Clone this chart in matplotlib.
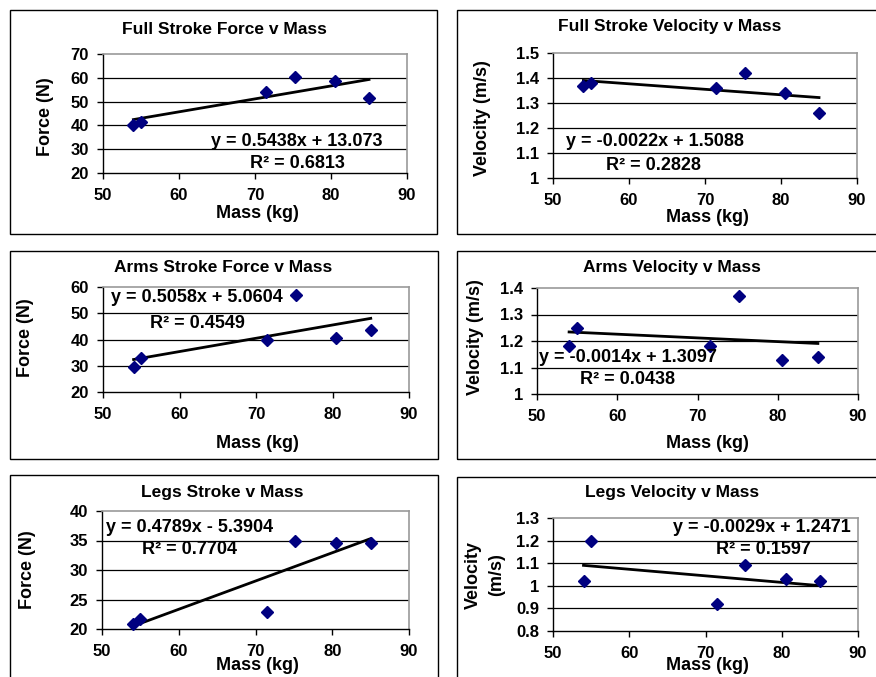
import numpy as np
import matplotlib
matplotlib.use('Agg')
import matplotlib.pyplot as plt
from matplotlib.patches import Rectangle

plt.rcParams['font.family'] = ['Liberation Sans', 'DejaVu Sans']
plt.rcParams['font.weight'] = 'bold'

W, H = 876, 677

# athlete mass (kg)
mass = [54.0, 55.0, 71.5, 75.2, 80.5, 85.0]

full_force = [40.0, 41.5, 54.0, 60.5, 58.5, 51.5]
full_vel = [1.37, 1.38, 1.36, 1.42, 1.34, 1.26]
arms_force = [29.5, 33.0, 40.0, 57.0, 40.5, 43.5]
arms_vel = [1.18, 1.25, 1.18, 1.37, 1.13, 1.14]
legs_force = [20.8, 21.7, 22.9, 35.0, 34.5, 34.5]
legs_vel = [1.02, 1.20, 0.92, 1.09, 1.03, 1.02]

titles = ['Full Stroke Force v Mass', 'Full Stroke Velocity v Mass',
          'Arms Stroke Force v Mass', 'Arms Velocity v Mass',
          'Legs Stroke v Mass', 'Legs Velocity v Mass']
ylabels = ['Force (N)', 'Velocity (m/s)', 'Force (N)', 'Velocity (m/s)',
           'Force (N)', 'Velocity\n(m/s)']
slopes = [0.5438, -0.0022, 0.5058, -0.0014, 0.4789, -0.0029]
intercepts = [13.073, 1.5088, 5.0604, 1.3097, -5.3904, 1.2471]
eq_text = ['y = 0.5438x + 13.073', 'y = -0.0022x + 1.5088',
           'y = 0.5058x + 5.0604', 'y = -0.0014x + 1.3097',
           'y = 0.4789x - 5.3904', 'y = -0.0029x + 1.2471']
r2_text = ['0.6813', '0.2828', '0.4549', '0.0438', '0.7704', '0.1597']
ylims = [(20, 70), (1, 1.5), (20, 60), (1, 1.4), (20, 40), (0.8, 1.3)]
ysteps = [10, 0.1, 10, 0.1, 5, 0.1]
xticks = [50, 60, 70, 80, 90]

series = [full_force, full_vel, arms_force, arms_vel, legs_force, legs_vel]

# layout in pixels: axes (left, right, top, bottom)
ax_px = [(103, 407, 54, 173), (553, 857, 53, 178),
         (103, 409, 287, 392), (537, 858, 288, 394),
         (102, 409, 511, 629), (553, 858, 518, 631)]
title_px = [(224, 30), (670, 26), (223, 267), (672, 267), (222, 492), (672, 493)]
ylab_px = [(45, 117), (482, 118), (25, 338), (475, 337), (28, 570), (485, 575)]
xlab_px = [(257, 214), (707, 217), (257, 443), (707, 443), (257, 665), (707, 666)]
eq_px = [(297, 142), (655, 142), (197, 298), (628, 357), (190, 528), (762, 528)]
r2_px = [(297, 164), (653, 165), (197, 323), (628, 380), (190, 550), (763, 550)]
box_px = [(10, 437, 10, 234), (457, 890, 10, 234),
          (10, 438, 251, 459), (457, 890, 251, 459),
          (10, 438, 475, 700), (457, 890, 477, 700)]


def fx(px):
    return px / W


def fy(py):
    return 1 - py / H


fig = plt.figure(figsize=(W / 100, H / 100), dpi=100)

for (x0, x1, y0, y1) in box_px:
    fig.patches.append(Rectangle((fx(x0), fy(y1)), fx(x1 - x0), (y1 - y0) / H,
                                 transform=fig.transFigure, fill=False,
                                 edgecolor='black', linewidth=1.0))

for i in range(6):
    l, r, t, b = ax_px[i]
    ax = fig.add_axes([fx(l), fy(b), fx(r - l), (b - t) / H])
    lo, hi = ylims[i]
    yt = np.arange(lo, hi + ysteps[i] / 2, ysteps[i])
    ax.set_ylim(lo, hi)
    ax.set_xlim(50, 90)
    ax.set_xticks(xticks)
    ax.set_yticks(yt)
    ax.set_yticklabels(['%g' % round(v, 2) for v in yt])
    for v in yt[1:-1]:
        ax.axhline(v, color='black', linewidth=0.9, zorder=1)
    for side in ['top', 'right']:
        ax.spines[side].set_color('#999999')
        ax.spines[side].set_linewidth(1.2)
    for side in ['left', 'bottom']:
        ax.spines[side].set_color('black')
        ax.spines[side].set_linewidth(1.0)
    ax.tick_params(axis='x', direction='out', length=4, width=1, labelsize=12, pad=7)
    ax.tick_params(axis='y', direction='out', length=4, width=1, labelsize=12, pad=6)
    for lab in ax.get_xticklabels() + ax.get_yticklabels():
        lab.set_fontweight('bold')

    xs = np.array([min(mass), max(mass)])
    ax.plot(xs, slopes[i] * xs + intercepts[i], color='black', linewidth=2.0, zorder=3)
    ax.plot(mass, series[i], linestyle='none', marker='D', markersize=6,
            color='#000080', zorder=4, clip_on=False)

    fig.text(fx(title_px[i][0]), fy(title_px[i][1]), titles[i], ha='center',
             va='center', fontsize=12.5, fontweight='bold')
    fig.text(fx(ylab_px[i][0]), fy(ylab_px[i][1]), ylabels[i], ha='center',
             va='center', rotation=90, fontsize=13, fontweight='bold',
             linespacing=1.5)
    fig.text(fx(xlab_px[i][0]), fy(xlab_px[i][1]), 'Mass (kg)', ha='center',
             va='center', fontsize=13, fontweight='bold')
    fig.text(fx(eq_px[i][0]), fy(eq_px[i][1]), eq_text[i], ha='center',
             va='center', fontsize=13, fontweight='bold', zorder=5)
    fig.text(fx(r2_px[i][0]), fy(r2_px[i][1]), 'R\u00b2 = ' + r2_text[i],
             ha='center', va='center', fontsize=13, fontweight='bold', zorder=5)

fig.savefig('out.png', dpi=100)
